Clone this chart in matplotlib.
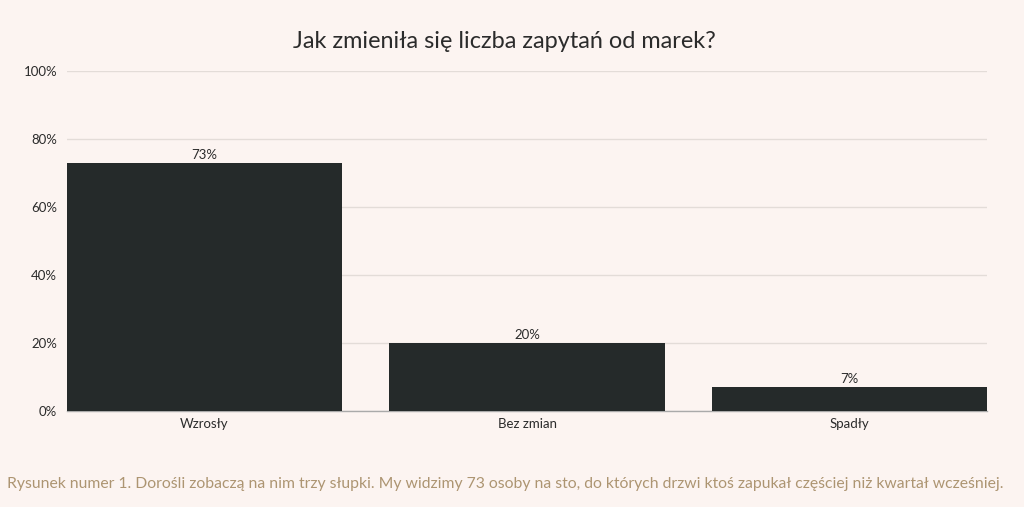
import matplotlib
matplotlib.use("Agg")
import matplotlib.pyplot as plt

categories = ["Wzrosły", "Bez zmian", "Spadły"]
values = [73, 20, 7]
yticks = [0, 20, 40, 60, 80, 100]
title = "Jak zmieniła się liczba zapytań od marek?"
caption = ("Rysunek numer 1. Dorośli zobaczą na nim trzy słupki. My widzimy 73 osoby na sto, "
           "do których drzwi ktoś zapukał częściej niż kwartał wcześniej.")

bg = "#fcf4f1"
bar_color = "#252a2a"
text_color = "#2b2b2b"
caption_color = "#ad9572"
grid_color = "#e3dcd8"

plt.rcParams['font.family'] = ['Lato', 'DejaVu Sans']

fig = plt.figure(figsize=(10.24, 5.07), dpi=100, facecolor=bg)
ax = fig.add_axes([0.0654, 0.1893, 0.8985, 0.6707], facecolor=bg)

x = list(range(len(categories)))
bars = ax.bar(x, values, width=0.853, color=bar_color, zorder=3)
for xi, v in zip(x, values):
    ax.text(xi, v + 0.6, f"{v}%", ha="center", va="bottom", fontsize=9.5, color=text_color, zorder=4)

ax.set_xlim(-0.4265, len(categories) - 1 + 0.4265)
ax.set_ylim(0, 100)
ax.set_yticks(yticks)
ax.set_yticklabels([f"{t}%" for t in yticks], fontsize=9.5, color=text_color)
ax.set_xticks(x)
ax.set_xticklabels(categories, fontsize=9.5, color=text_color)
ax.tick_params(axis="both", length=0)
ax.tick_params(axis="y", pad=7)
ax.tick_params(axis="x", pad=5)
ax.yaxis.grid(True, color=grid_color, linewidth=1, zorder=0)
for s in ["top", "right", "left"]:
    ax.spines[s].set_visible(False)
ax.spines["bottom"].set_color("#aaaaaa")
ax.spines["bottom"].set_linewidth(1)

fig.text(504 / 1024, 1 - 42 / 507, title, ha="center", va="center", fontsize=16.9, color=text_color)
fig.text(505 / 1024, 1 - 484 / 507, caption, ha="center", va="center", fontsize=11.3, color=caption_color)

fig.savefig("out.png", dpi=100, facecolor=bg)
